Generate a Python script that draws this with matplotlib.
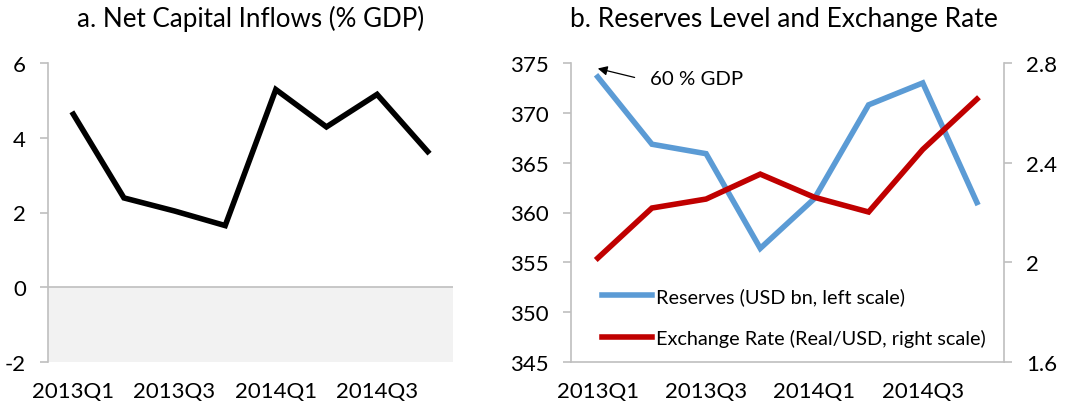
import matplotlib
matplotlib.use("Agg")
import matplotlib.pyplot as plt
import numpy as np

plt.rcParams['font.family'] = ['Lato', 'DejaVu Sans']
plt.rcParams['axes.unicode_minus'] = False

quarters = ["2013Q1", "2013Q2", "2013Q3", "2013Q4", "2014Q1", "2014Q2", "2014Q3", "2014Q4"]
net_inflows = [4.63, 2.39, 2.04, 1.65, 5.29, 4.29, 5.16, 3.63]
reserves = [373.6, 366.85, 365.9, 356.4, 361.4, 370.8, 373.0, 361.0]
exchange_rate = [2.017, 2.218, 2.254, 2.354, 2.261, 2.202, 2.453, 2.655]

W, H = 1081, 406
fig = plt.figure(figsize=(W / 100, H / 100), dpi=100)

gray = '#bfbfbf'
tick_fs = 16
lw = 4
x = np.arange(len(quarters))

def px_axes(l, r, t, b):
    return fig.add_axes([l / W, 1 - b / H, (r - l) / W, (b - t) / H])

# Panel a
ax1 = px_axes(48, 453, 64, 363)
ax1.axhspan(-2, 0, color='#f2f2f2', zorder=0, lw=0)
ax1.axhline(0, color=gray, lw=1.2, zorder=1)
ax1.plot(x, net_inflows, color='black', lw=lw, solid_joinstyle='miter', zorder=3)
ax1.set_xlim(-0.5, 7.5)
ax1.set_ylim(-2, 6)
ax1.set_yticks([-2, 0, 2, 4, 6])
ax1.set_xticks(x[::2])
ax1.set_xticklabels(quarters[::2])
for s in ['top', 'right', 'bottom']:
    ax1.spines[s].set_visible(False)
ax1.spines['left'].set_color(gray)
ax1.spines['left'].set_linewidth(1.2)
ax1.tick_params(axis='y', colors=gray, labelcolor='black', length=6, width=1.2,
                labelsize=tick_fs, pad=10)
ax1.tick_params(axis='x', length=0, labelsize=tick_fs, pad=14)
fig.text(251 / W, 1 - 19 / H, "a. Net Capital Inflows (% GDP)", ha='center', va='center', fontsize=18.7)

# Panel b
ax2 = px_axes(570.7, 1004, 64, 363)
l1, = ax2.plot(x, reserves, color='#5b9bd5', lw=lw, solid_joinstyle='miter', zorder=3,
               label='Reserves (USD bn, left scale)')
ax2.set_xlim(-0.5, 7.5)
ax2.set_ylim(345, 375)
ax2.set_yticks(np.arange(345, 376, 5))
ax2.set_xticks(x[::2])
ax2.set_xticklabels(quarters[::2])
ax2.spines['top'].set_visible(False)
ax2.spines['right'].set_visible(False)
for s in ['left', 'bottom']:
    ax2.spines[s].set_color(gray)
    ax2.spines[s].set_linewidth(1.2)
ax2.tick_params(axis='y', colors=gray, labelcolor='black', length=6, width=1.2,
                labelsize=tick_fs, pad=10)
ax2.tick_params(axis='x', length=0, labelsize=tick_fs, pad=14)

ax3 = ax2.twinx()
l2, = ax3.plot(x, exchange_rate, color='#c00000', lw=lw, solid_joinstyle='miter', zorder=3,
               label='Exchange Rate (Real/USD, right scale)')
ax3.set_ylim(1.6, 2.8)
ax3.set_yticks([1.6, 2.0, 2.4, 2.8])
ax3.set_yticklabels(['1.6', '2', '2.4', '2.8'])
for s in ['top', 'left', 'bottom']:
    ax3.spines[s].set_visible(False)
ax3.spines['right'].set_color(gray)
ax3.spines['right'].set_linewidth(1.2)
ax3.tick_params(axis='y', colors=gray, labelcolor='black', length=6, width=1.2,
                labelsize=tick_fs, pad=10)

ax2.annotate("", xy=(0.0, 374.45), xytext=(0.68, 373.55),
             arrowprops=dict(arrowstyle='-|>', color='black', lw=0.9,
                             shrinkA=0, shrinkB=0, mutation_scale=14))
ax2.text(0.97, 373.4, "60 % GDP", fontsize=14.7, va='center', ha='left')
ax3.legend(handles=[l1, l2], loc='lower left', bbox_to_anchor=(0.055, 0.025),
           frameon=False, fontsize=14.3, handlelength=2.5, handletextpad=0.2,
           labelspacing=1.2, borderaxespad=0)
fig.text(784 / W, 1 - 19 / H, "b. Reserves Level and Exchange Rate", ha='center', va='center', fontsize=19)

fig.savefig("out.png", dpi=100)
